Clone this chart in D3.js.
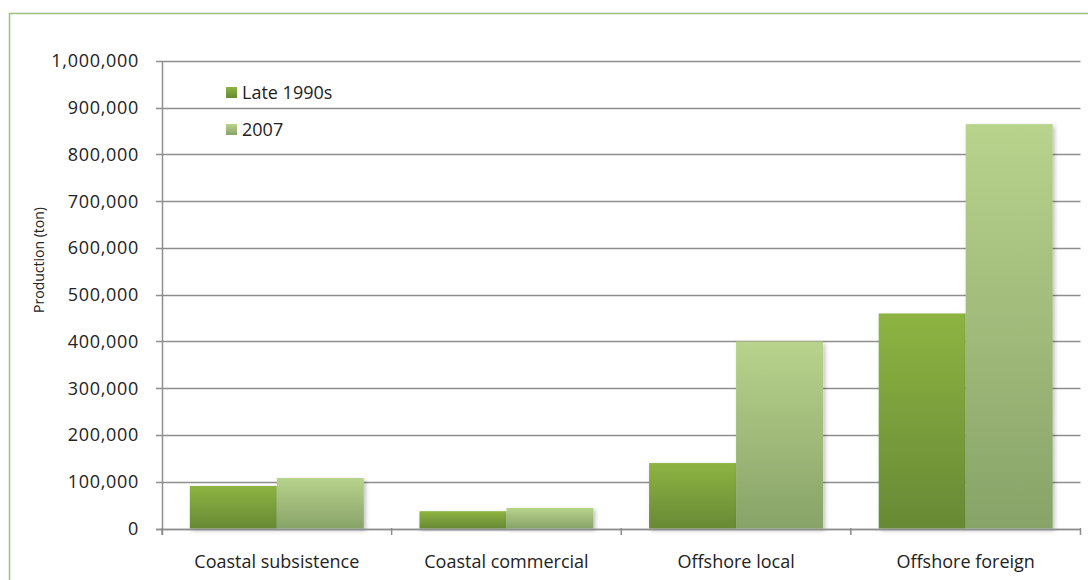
<!DOCTYPE html>
<html>
<head>
<meta charset="utf-8">
<script src="https://cdn.jsdelivr.net/npm/d3@7"></script>
<style>
  body { margin: 0; background: #fff; }
  text { font-family: "Open Sans", "Noto Sans", sans-serif; fill: #222; }
</style>
</head>
<body>
<script>
// categories, series, values
var categories = ["Coastal subsistence", "Coastal commercial", "Offshore local", "Offshore foreign"];
var seriesNames = ["Late 1990s", "2007"];
var late1990s = [91000, 37000, 140000, 460000];
var y2007 = [108000, 44000, 400000, 865000];
var yTicks = [0, 100000, 200000, 300000, 400000, 500000, 600000, 700000, 800000, 900000, 1000000];

var width = 1088, height = 580;
var margin = {left: 162, right: 8, top: 61, bottom: 52};

var svg = d3.select("body").append("svg")
    .attr("width", width)
    .attr("height", height);

// outer green frame (right and bottom run off the picture)
svg.append("rect")
    .attr("x", 9.5).attr("y", 13.5)
    .attr("width", 1100).attr("height", 600)
    .attr("fill", "none")
    .attr("stroke", "#9cc47c")
    .attr("stroke-width", 1.5);

var defs = svg.append("defs");
function grad(id, top, bottom) {
    var g = defs.append("linearGradient").attr("id", id)
        .attr("x1", 0).attr("y1", 0).attr("x2", 0).attr("y2", 1);
    g.append("stop").attr("offset", "0%").attr("stop-color", top);
    g.append("stop").attr("offset", "100%").attr("stop-color", bottom);
}
grad("gLate", "#8db442", "#678935");
grad("g2007", "#b8d38c", "#88a368");

var shadow = defs.append("filter").attr("id", "shadow")
    .attr("x", "-10%").attr("y", "-10%").attr("width", "130%").attr("height", "130%");
shadow.append("feDropShadow")
    .attr("dx", 2).attr("dy", 2).attr("stdDeviation", 2)
    .attr("flood-color", "#000").attr("flood-opacity", 0.25);

var x = d3.scaleBand()
    .domain(categories)
    .range([margin.left, 1080.5])
    .paddingInner(0)
    .paddingOuter(0);

var inner = d3.scaleBand()
    .domain(seriesNames)
    .range([0, x.bandwidth()])
    .paddingOuter(0.32)
    .paddingInner(0);

var y = d3.scaleLinear()
    .domain([0, 1000000])
    .range([528.5, 61]);

// gridlines
svg.append("g").selectAll("line")
    .data(yTicks)
    .enter().append("line")
    .attr("x1", margin.left - 6).attr("x2", 1080.5)
    .attr("y1", function(d) { return Math.round(y(d)) + 0.5; })
    .attr("y2", function(d) { return Math.round(y(d)) + 0.5; })
    .attr("stroke", "#8e8e8e")
    .attr("stroke-width", 1.5);

// y tick labels
svg.append("g").selectAll("text")
    .data(yTicks)
    .enter().append("text")
    .attr("x", 139)
    .attr("y", function(d) { return y(d); })
    .attr("dy", "0.36em")
    .attr("text-anchor", "end")
    .style("font-size", "18px")
    .style("letter-spacing", "0.7px")
    .text(function(d) { return d3.format(",")(d); });

// x category boundary ticks
var bounds = categories.map(function(c) { return x(c); }).concat([x(categories[3]) + x.bandwidth()]);
svg.append("g").selectAll("line")
    .data(bounds)
    .enter().append("line")
    .attr("x1", function(d) { return d; }).attr("x2", function(d) { return d; })
    .attr("y1", 528).attr("y2", 535)
    .attr("stroke", "#8e8e8e")
    .attr("stroke-width", 1.5);

// y axis line
svg.append("line")
    .attr("x1", margin.left + 0.5).attr("x2", margin.left + 0.5)
    .attr("y1", 61).attr("y2", 535)
    .attr("stroke", "#8e8e8e")
    .attr("stroke-width", 1.5);

// bars
var rows = categories.map(function(c, i) {
    return {cat: c, values: [{s: seriesNames[0], v: late1990s[i]}, {s: seriesNames[1], v: y2007[i]}]};
});

var groups = svg.append("g").selectAll("g")
    .data(rows)
    .enter().append("g")
    .attr("transform", function(d) { return "translate(" + x(d.cat) + ",0)"; });

groups.selectAll("rect")
    .data(function(d) { return d.values; })
    .enter().append("rect")
    .attr("x", function(d) { return inner(d.s); })
    .attr("width", inner.bandwidth())
    .attr("y", function(d) { return y(d.v); })
    .attr("height", function(d) { return y(0) - y(d.v); })
    .attr("fill", function(d) { return d.s === seriesNames[0] ? "url(#gLate)" : "url(#g2007)"; })
    .attr("filter", "url(#shadow)");

// redraw axis baseline over the bars
svg.append("line")
    .attr("x1", margin.left - 6).attr("x2", 1080.5)
    .attr("y1", Math.round(y(0)) + 0.5).attr("y2", Math.round(y(0)) + 0.5)
    .attr("stroke", "#8e8e8e")
    .attr("stroke-width", 1.5);

// category labels
svg.append("g").selectAll("text")
    .data(categories)
    .enter().append("text")
    .attr("x", function(d) { return x(d) + x.bandwidth() / 2; })
    .attr("y", 568)
    .attr("text-anchor", "middle")
    .style("font-size", "18px")
    .text(function(d) { return d; });

// y axis title
svg.append("text")
    .attr("transform", "translate(44,260) rotate(-90)")
    .attr("text-anchor", "middle")
    .style("font-size", "14px")
    .text("Production (ton)");

// legend
var legend = svg.append("g").selectAll("g")
    .data(seriesNames)
    .enter().append("g")
    .attr("transform", function(d, i) { return "translate(226," + (87 + i * 37) + ")"; });

legend.append("rect")
    .attr("width", 11).attr("height", 11)
    .attr("fill", function(d, i) { return i === 0 ? "url(#gLate)" : "url(#g2007)"; });

legend.append("text")
    .attr("x", 16).attr("y", 5.5)
    .attr("dy", "0.36em")
    .style("font-size", "18px")
    .text(function(d) { return d; });
</script>
</body>
</html>
